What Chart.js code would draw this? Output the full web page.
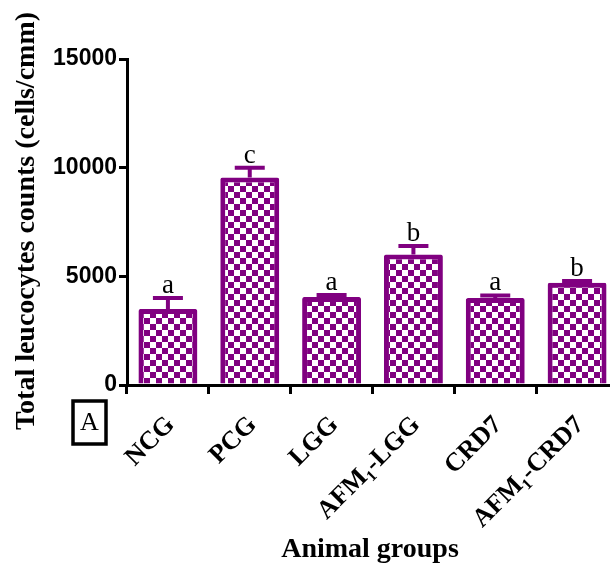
<!DOCTYPE html>
<html>
<head>
<meta charset="utf-8">
<script src="https://cdn.jsdelivr.net/npm/chart.js@4.4.0/dist/chart.umd.min.js"></script>
<style>
  html, body { margin: 0; padding: 0; background: #fff; overflow: hidden; }
  #wrap { width: 630px; height: 569px; }
</style>
</head>
<body>
<div id="wrap"><canvas id="wbcChart" width="630" height="569"></canvas></div>
<script>
// Total leucocyte counts per animal group
const groups = ['NCG', 'PCG', 'LGG', 'AFM\u2081-LGG', 'CRD7', 'AFM\u2081-CRD7'];
const meanCounts = [3500, 9550, 4050, 6000, 4000, 4700];
const upperError = [500, 450, 90, 390, 120, 80];
const sigLetters = ['a', 'c', 'a', 'b', 'a', 'b'];
const yTicks = [0, 5000, 10000, 15000];

const purple = '#800080';

function checkerPattern() {
    const c = document.createElement('canvas');
    c.width = 12;
    c.height = 12;
    const g = c.getContext('2d');
    g.fillStyle = purple;
    g.fillRect(0, 0, 12, 12);
    g.fillStyle = '#ffffff';
    g.fillRect(0, 0, 6, 6);
    g.fillRect(6, 6, 6, 6);
    return g.createPattern(c, 'repeat');
}

// error bars, letters and the extra labels
const extras = {
    id: 'extras',
    afterDatasetsDraw(chart) {
        const ctx = chart.ctx;
        const y = chart.scales.y;
        const meta = chart.getDatasetMeta(0);
        ctx.save();
        ctx.strokeStyle = purple;
        ctx.lineWidth = 4;
        meta.data.forEach((bar, i) => {
            const top = y.getPixelForValue(meanCounts[i]);
            const cap = y.getPixelForValue(meanCounts[i] + upperError[i]);
            ctx.beginPath();
            ctx.moveTo(bar.x, top);
            ctx.lineTo(bar.x, cap);
            ctx.moveTo(bar.x - 15, cap);
            ctx.lineTo(bar.x + 15, cap);
            ctx.stroke();

            ctx.fillStyle = '#000';
            ctx.font = '27px "Liberation Serif"';
            ctx.textAlign = 'center';
            ctx.textBaseline = 'alphabetic';
            ctx.fillText(sigLetters[i], bar.x, cap - 5);
        });

        // axis titles
        ctx.fillStyle = '#000';
        ctx.font = 'bold 28px "Liberation Serif"';
        ctx.textAlign = 'center';
        ctx.textBaseline = 'middle';
        ctx.fillText('Animal groups', 370, 550);

        ctx.save();
        ctx.translate(27, 221);
        ctx.rotate(-Math.PI / 2);
        ctx.fillText('Total leucocytes counts (cells/cmm)', 0, 0);
        ctx.restore();

        // panel letter
        ctx.lineWidth = 3.5;
        ctx.strokeStyle = '#000';
        ctx.strokeRect(73, 401, 33, 43);
        ctx.font = '26px "Liberation Serif"';
        ctx.fillText('A', 89.5, 423);
        ctx.restore();
    }
};

new Chart(document.getElementById('wbcChart'), {
    type: 'bar',
    data: {
        labels: groups,
        datasets: [{
            data: meanCounts,
            backgroundColor: checkerPattern(),
            borderColor: purple,
            borderWidth: 5,
            borderRadius: 2,
            borderSkipped: 'bottom',
            categoryPercentage: 1,
            barPercentage: 0.72
        }]
    },
    options: {
        responsive: false,
        animation: false,
        layout: { padding: { top: 59, right: 12, bottom: 0, left: 0 } },
        plugins: {
            legend: { display: false },
            tooltip: { enabled: false }
        },
        scales: {
            x: {
                afterFit(scale) { scale.height = 184; },
                grid: {
                    drawOnChartArea: false,
                    color: '#000',
                    lineWidth: 3,
                    tickLength: 9
                },
                border: { color: '#000', width: 3 },
                ticks: {
                    color: '#000',
                    font: { family: '"Liberation Serif"', size: 26, weight: 'bold' },
                    minRotation: 45,
                    maxRotation: 45,
                    padding: 16,
                    labelOffset: 3
                }
            },
            y: {
                min: 0,
                max: 15000,
                afterFit(scale) { scale.width = 127; },
                afterBuildTicks(scale) {
                    scale.ticks = yTicks.map(v => ({ value: v }));
                },
                grid: {
                    drawOnChartArea: false,
                    color: '#000',
                    lineWidth: 3,
                    tickLength: 8
                },
                border: { color: '#000', width: 3 },
                ticks: {
                    color: '#000',
                    font: { family: '"Liberation Sans"', size: 23, weight: 'bold' },
                    padding: 2,
                    callback: v => String(v)
                }
            }
        }
    },
    plugins: [extras]
});
</script>
</body>
</html>
